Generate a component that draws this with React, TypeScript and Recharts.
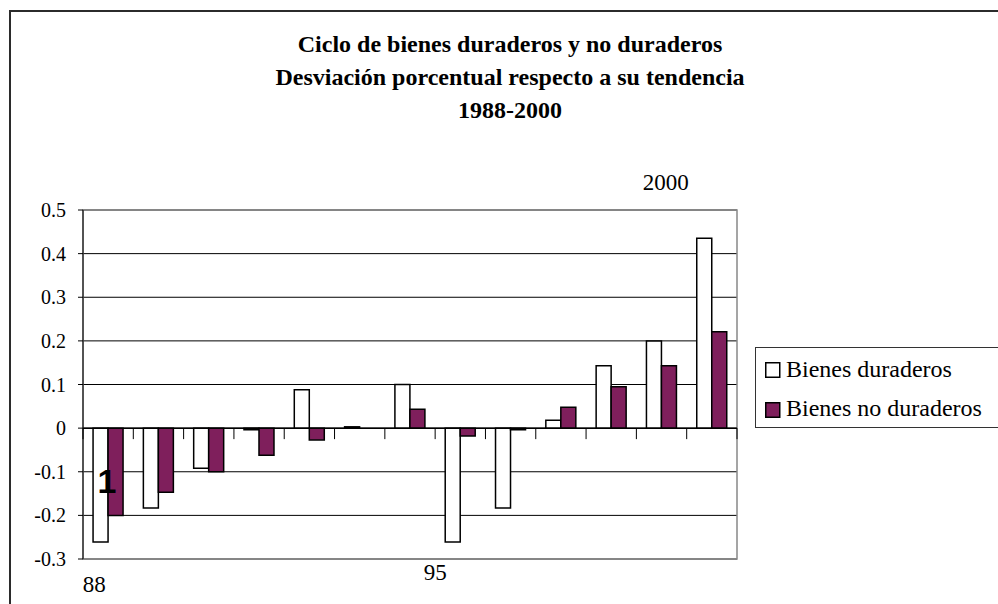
import React from 'react';
import {
  BarChart,
  Bar,
  XAxis,
  YAxis,
  CartesianGrid,
  ReferenceLine,
  ReferenceArea,
  Legend
} from 'recharts';

// Datos: desviación porcentual respecto a la tendencia
const YEARS = ['1988', '1989', '1990', '1991', '1992', '1993', '1994', '1995', '1996', '1997', '1998', '1999', '2000'];
const DURABLES = [-0.261, -0.183, -0.092, -0.004, 0.088, 0.003, 0.1, -0.261, -0.183, 0.018, 0.143, 0.2, 0.435];
const NON_DURABLES = [-0.2, -0.147, -0.1, -0.062, -0.027, 0, 0.043, -0.018, -0.004, 0.048, 0.095, 0.143, 0.221];
const TICK_LABELS = ['88', '', '', '', '', '', '', '95', '', '', '', '', '2000'];
const Y_TICKS = [-0.3, -0.2, -0.1, 0, 0.1, 0.2, 0.3, 0.4, 0.5];
const TITLE = [
  'Ciclo de bienes duraderos y no duraderos',
  'Desviación porcentual respecto a su tendencia',
  '1988-2000'
];

const SERIES = [
  { key: 'durables', name: 'Bienes duraderos', fill: '#ffffff' },
  { key: 'nonDurables', name: 'Bienes no duraderos', fill: '#7f1f5c' }
];

const data = YEARS.map((year, i) => ({
  year,
  durables: DURABLES[i],
  nonDurables: NON_DURABLES[i]
}));

const W = 998;
const H = 604;
const PLOT_LEFT = 83;
const PLOT_RIGHT = 737;
const PLOT_TOP = 210;
const PLOT_BOTTOM = 559;
const X_AXIS_H = 30;
const FONT = "'Liberation Serif', 'DejaVu Serif', serif";

const ZERO_Y = PLOT_TOP + ((0.5 - 0) / 0.8) * (PLOT_BOTTOM - PLOT_TOP);
const STEP = (PLOT_RIGHT - PLOT_LEFT) / YEARS.length;

// posición de las etiquetas sueltas (como cuadros de texto en el original)
const LABEL_POS: Record<number, { dx: number; y: number }> = {
  0: { dx: -14, y: 592 },
  7: { dx: -25, y: 580 },
  12: { dx: -46, y: 190 }
};

function CategoryTick(props: any) {
  const { x, index } = props;
  const label = TICK_LABELS[index];
  const pos = LABEL_POS[index];
  const left = x - STEP / 2;
  return (
    <g>
      <line x1={left} x2={left} y1={ZERO_Y} y2={ZERO_Y + 11} stroke="#000" strokeWidth={1} />
      {index === YEARS.length - 1 && (
        <line x1={x + STEP / 2} x2={x + STEP / 2} y1={ZERO_Y} y2={ZERO_Y + 11} stroke="#000" strokeWidth={1} />
      )}
      {label && pos && (
        <text x={x + pos.dx} y={pos.y} textAnchor="middle" fontSize={23} style={{ fontFamily: FONT }} fill="#000">
          {label}
        </text>
      )}
    </g>
  );
}

function LegendBox() {
  return (
    <svg width={260} height={81} style={{ display: 'block' }}>
      <rect x={0.5} y={0.5} width={270} height={80} fill="#fff" stroke="#333" strokeWidth={1} />
      {SERIES.map((s, i) => (
        <g key={s.key}>
          <rect x={10.75} y={15.75 + i * 40} width={14} height={14.5} fill={s.fill} stroke="#000" strokeWidth={1.5} />
          <text x={31} y={30 + i * 39} fontSize={24} style={{ fontFamily: FONT }} fill="#000">
            {s.name}
          </text>
        </g>
      ))}
    </svg>
  );
}

export default function App() {
  return (
    <div
      style={{
        position: 'absolute',
        left: 0,
        top: 0,
        width: W,
        height: H,
        overflow: 'hidden',
        background: '#fff',
        fontFamily: FONT
      }}
    >
      <div
        style={{
          position: 'absolute',
          left: 9,
          top: 10,
          width: 1100,
          height: 700,
          border: '2px solid #2b2b2b'
        }}
      />
      <div style={{ position: 'absolute', left: 0, top: 0 }}>
        <BarChart
          width={W}
          height={H}
          data={data}
          margin={{ top: PLOT_TOP, right: W - PLOT_RIGHT, bottom: H - PLOT_BOTTOM - X_AXIS_H, left: 0 }}
          barCategoryGap="20%"
          barGap={0}
        >
          <CartesianGrid vertical={false} stroke="#000" strokeWidth={1} />
          <ReferenceArea y1={-0.3} y2={0.5} fill="none" stroke="#888" strokeWidth={1.5} />
          <XAxis
            dataKey="year"
            height={X_AXIS_H}
            axisLine={false}
            tickLine={false}
            interval={0}
            tick={(p: any) => <CategoryTick {...p} />}
          />
          <YAxis
            width={PLOT_LEFT}
            domain={[-0.3, 0.5]}
            ticks={Y_TICKS}
            tickFormatter={(v: number) => String(Math.round(v * 10) / 10)}
            axisLine={{ stroke: '#000', strokeWidth: 1 }}
            tickLine={{ stroke: '#000', strokeWidth: 1 }}
            tickSize={5}
            tickMargin={12}
            tick={{ fill: '#000', fontSize: 20, style: { fontFamily: FONT } }}
          />
          {SERIES.map(s => (
            <Bar
              key={s.key}
              dataKey={s.key}
              name={s.name}
              fill={s.fill}
              stroke="#000"
              strokeWidth={1.5}
              isAnimationActive={false}
            />
          ))}
          <ReferenceLine y={0} stroke="#000" strokeWidth={1.5} />
          <Legend
            layout="horizontal"
            verticalAlign="middle"
            align="center"
            content={() => <LegendBox />}
            wrapperStyle={{ position: 'absolute', left: 755, top: 347, width: 260, height: 81 }}
          />
        </BarChart>
      </div>
      <svg
        width={W}
        height={H}
        style={{ position: 'absolute', left: 0, top: 0, pointerEvents: 'none' }}
      >
        {TITLE.map((line, i) => (
          <text
            key={i}
            x={510}
            y={52 + i * 33}
            textAnchor="middle"
            fontSize={24}
            fontWeight="bold"
            style={{ fontFamily: FONT }}
            fill="#000"
          >
            {line}
          </text>
        ))}
        <text x={107} y={493} textAnchor="middle" fontSize={34} fontWeight="bold" style={{ fontFamily: "'Liberation Sans', Arial, sans-serif" }} fill="#000">
          1
        </text>
      </svg>
    </div>
  );
}
